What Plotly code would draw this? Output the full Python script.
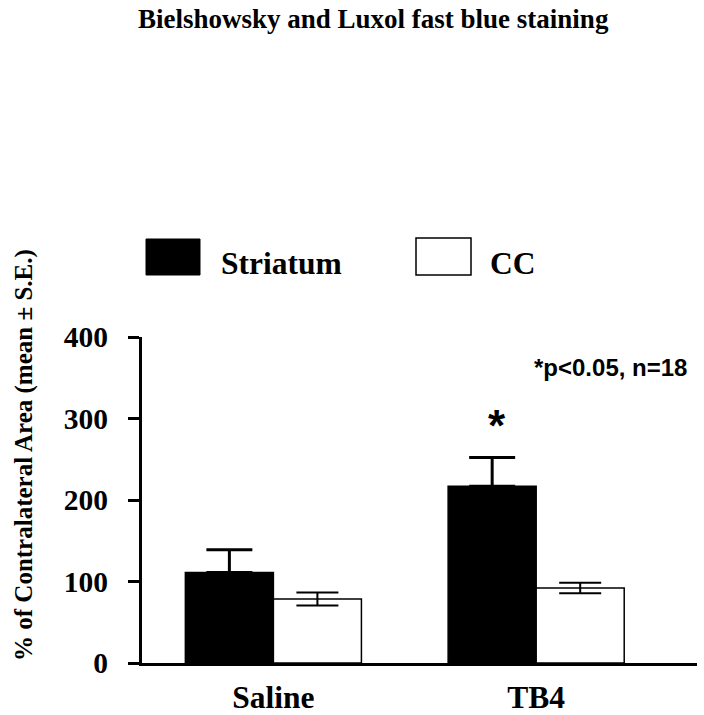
import plotly.graph_objects as go

groups = ["Saline", "TB4"]
striatum_mean = [111, 217]
striatum_se = [28, 35]
cc_mean = [78.5, 92]
cc_se = [8, 6.5]
y_ticks = [0, 100, 200, 300, 400]

W, H = 704, 715
L, R, T, B = 142, 7, 337, 52

def px(x):
    return (x - L) / (W - L - R)

def py(y):
    return 1 - (y - T) / (H - T - B)

SERIF = "Liberation Serif, Times New Roman, serif"
SANS = "Liberation Sans, Arial, sans-serif"

fig = go.Figure()
fig.add_trace(go.Bar(
    name="Striatum", x=groups, y=striatum_mean,
    marker=dict(color="black", line=dict(color="black", width=1.5)),
    error_y=dict(type="data", array=striatum_se, arrayminus=[0] * len(groups),
                 symmetric=False, color="black", thickness=3, width=23),
))
fig.add_trace(go.Bar(
    name="CC", x=groups, y=cc_mean,
    marker=dict(color="white", line=dict(color="black", width=1.5)),
    error_y=dict(type="data", array=cc_se, color="black", thickness=2, width=21),
))

fig.update_layout(
    width=W, height=H,
    margin=dict(l=L, r=R, t=T, b=B, autoexpand=False),
    plot_bgcolor="white", paper_bgcolor="white",
    barmode="group", bargap=0.33, bargroupgap=0,
    showlegend=False,
    font=dict(family=SERIF, color="black"),
)
fig.update_xaxes(
    range=[-0.5, 1.612], showline=True, linecolor="black", linewidth=2.5,
    ticks="", showgrid=False, zeroline=False, automargin=False,
    tickfont=dict(family=SERIF, size=31.5, color="black", weight="bold"),
    ticklabelstandoff=4,
)
fig.update_yaxes(
    range=[0, 400], tickvals=y_ticks, showline=True, linecolor="black", linewidth=3,
    ticks="outside", ticklen=11, tickwidth=3, tickcolor="black",
    showgrid=False, zeroline=False, automargin=False,
    tickfont=dict(family=SERIF, size=29.5, color="black", weight="bold"),
    ticklabelstandoff=14,
)

annotations = [
    dict(text="<b>Bielshowsky and Luxol fast blue staining</b>", x=px(373), y=py(19),
         font=dict(family=SERIF, size=27, color="black")),
    dict(text="<b>% of Contralateral Area (mean ± S.E.)</b>", x=px(24), y=py(455),
         textangle=-90, font=dict(family=SERIF, size=25, color="black")),
    dict(text="<b>Striatum</b>", x=px(219), y=py(263), xanchor="left",
         font=dict(family=SERIF, size=31.5, color="black")),
    dict(text="<b>CC</b>", x=px(488), y=py(263), xanchor="left",
         font=dict(family=SERIF, size=31.5, color="black")),
    dict(text="<b>*p<0.05, n=18</b>", x=px(610), y=py(367),
         font=dict(family=SANS, size=24, color="black")),
    dict(text="<b>*</b>", x=px(497), y=py(425),
         font=dict(family=SANS, size=44, color="black")),
]
for a in annotations:
    a.update(xref="paper", yref="paper", showarrow=False)
    a.setdefault("xanchor", "center")
    a.setdefault("yanchor", "middle")
fig.update_layout(annotations=annotations)

fig.add_shape(type="rect", xref="paper", yref="paper",
              x0=px(146), x1=px(200), y0=py(275), y1=py(239),
              fillcolor="black", line=dict(color="black", width=1))
fig.add_shape(type="rect", xref="paper", yref="paper",
              x0=px(416), x1=px(471), y0=py(275), y1=py(238),
              fillcolor="white", line=dict(color="black", width=1.5))

fig.write_html(
    "out.html",
    config={"displayModeBar": False},
    post_script="document.body.style.margin='0';document.documentElement.style.overflow='hidden';",
)
